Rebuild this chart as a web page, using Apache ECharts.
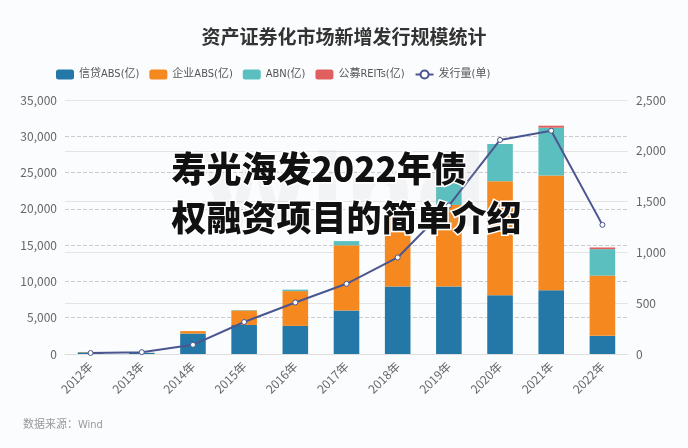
<!DOCTYPE html>
<html>
<head>
<meta charset="utf-8">
<script src="https://cdn.jsdelivr.net/npm/echarts@6/dist/echarts.min.js"></script>
<style>
html,body{margin:0;padding:0;background:#fbfcfd;}
#c{width:688px;height:448px;}
</style>
</head>
<body>
<div id="c"></div>
<script>
var years = ['2012年','2013年','2014年','2015年','2016年','2017年','2018年','2019年','2020年','2021年','2022年'];
var creditABS = [230, 160, 2820, 4000, 3870, 5977, 9300, 9300, 8100, 8800, 2500];
var corpABS   = [50, 20, 340, 2000, 4800, 9000, 9590, 11240, 15700, 15800, 8300];
var abn       = [0, 0, 0, 60, 200, 580, 1110, 3000, 5150, 6580, 3650];
var reits     = [0, 0, 0, 0, 0, 0, 0, 0, 0, 280, 230];
var issueCount = [10, 18, 90, 315, 507, 691, 950, 1461, 2107, 2198, 1271];
var leftTicks = {min: 0, max: 35000, interval: 5000};
var rightTicks = {min: 0, max: 2500, interval: 500};

var font = '"Noto Sans CJK SC", "Noto Sans", sans-serif';
var narrow = '"DejaVu Sans Condensed", "Liberation Sans Narrow", "Noto Sans CJK SC", sans-serif';
var chart = echarts.init(document.getElementById('c'));
function bar(name, data, color) {
  return {name: name, type: 'bar', stack: 'total', data: data, barWidth: '50%',
    itemStyle: {color: color}, yAxisIndex: 0};
}
chart.setOption({
  backgroundColor: '#fbfcfd',
  animation: false,
  textStyle: {fontFamily: font},
  title: {
    text: '资产证券化市场新增发行规模统计', left: 'center', top: 22,
    textStyle: {fontSize: 19, fontWeight: 600, color: '#333', fontFamily: font}
  },
  legend: {
    top: 64, left: 51, itemWidth: 18, itemHeight: 10, itemGap: 10,
    textStyle: {fontSize: 11, color: '#555', fontFamily: narrow},
    data: [
      {name: '信贷ABS(亿)', icon: 'roundRect'},
      {name: '企业ABS(亿)', icon: 'roundRect'},
      {name: 'ABN(亿)', icon: 'roundRect'},
      {name: '公募REITs(亿)', icon: 'roundRect'},
      {name: '发行量(单)'}
    ]
  },
  grid: {left: 65, right: 60, top: 100, bottom: 94},
  xAxis: {
    type: 'category', data: years,
    axisLine: {lineStyle: {color: '#ddd'}},
    axisTick: {show: false},
    axisLabel: {rotate: 45, color: '#666', fontSize: 12, margin: 10}
  },
  yAxis: [
    {type: 'value', min: leftTicks.min, max: leftTicks.max, interval: leftTicks.interval,
     axisLabel: {color: '#666', fontSize: 12},
     axisLine: {show: false}, axisTick: {show: false},
     splitLine: {lineStyle: {type: 'dashed', color: '#ccc'}}},
    {type: 'value', min: rightTicks.min, max: rightTicks.max, interval: rightTicks.interval,
     axisLabel: {color: '#666', fontSize: 12},
     axisLine: {show: false}, axisTick: {show: false},
     splitLine: {lineStyle: {type: 'solid', color: '#e4e4e4'}}}
  ],
  series: [
    bar('信贷ABS(亿)', creditABS, '#2378a7'),
    bar('企业ABS(亿)', corpABS, '#f5891f'),
    bar('ABN(亿)', abn, '#5cbfbf'),
    bar('公募REITs(亿)', reits, '#e06060'),
    {name: '发行量(单)', type: 'line', yAxisIndex: 1, data: issueCount,
     symbol: 'circle', symbolSize: 5, z: 5,
     lineStyle: {color: '#4b5690', width: 2},
     itemStyle: {color: '#ffffff', borderColor: '#4b5690', borderWidth: 1}}
  ],
  graphic: [
    {type: 'text', left: 200, top: 150, z: 50, silent: true,
     style: {text: 'Wind', font: 'bold 100px "DejaVu Sans"', fill: 'rgba(180,180,180,0.12)'}},
    {type: 'text', left: 170, top: 150, z: 100,
     style: {text: '寿光海发2022年债', font: '900 35px "Noto Sans CJK SC"', fill: '#111',
       stroke: '#ffffff', lineWidth: 3}},
    {type: 'text', left: 170, top: 199, z: 100,
     style: {text: '权融资项目的简单介绍', font: '900 35px "Noto Sans CJK SC"', fill: '#111',
       stroke: '#ffffff', lineWidth: 3}},
    {type: 'text', left: 23, top: 420,
     style: {text: '数据来源：Wind', font: '11px ' + narrow, fill: '#999'}}
  ]
});
</script>
</body>
</html>
